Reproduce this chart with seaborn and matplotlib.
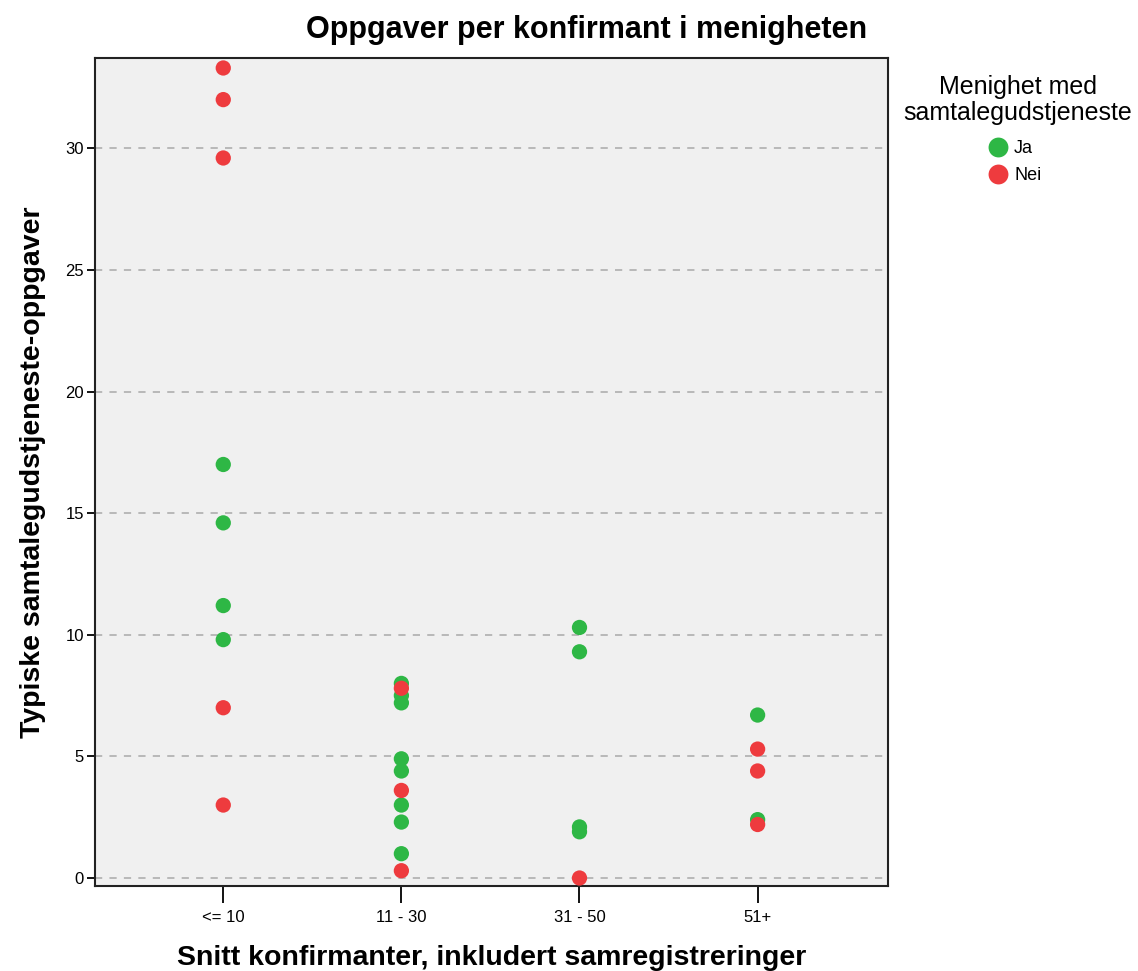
import pandas as pd
import matplotlib
matplotlib.use("Agg")
import matplotlib.pyplot as plt
import seaborn as sns

# ---- data ----
categories = ["<= 10", "11 - 30", "31 - 50", "51+"]

ja_groups = ["<= 10"] * 4 + ["11 - 30"] * 8 + ["31 - 50"] * 4 + ["51+"] * 2
ja_values = [17.0, 14.6, 11.2, 9.8,
             8.0, 7.5, 7.2, 4.9, 4.4, 3.0, 2.3, 1.0,
             10.3, 9.3, 2.1, 1.9,
             6.7, 2.4]

nei_groups = ["<= 10"] * 5 + ["11 - 30"] * 3 + ["31 - 50"] * 1 + ["51+"] * 3
nei_values = [33.3, 32.0, 29.6, 7.0, 3.0,
              7.8, 3.6, 0.3,
              0.0,
              5.3, 4.4, 2.2]

hue_labels = ["Ja", "Nei"]
yticks = [0, 5, 10, 15, 20, 25, 30]

df = pd.DataFrame({
    "gruppe": ja_groups + nei_groups,
    "verdi": ja_values + nei_values,
    "svar": ["Ja"] * len(ja_values) + ["Nei"] * len(nei_values),
})

# ---- styling ----
sns.set_style("white")
plt.rcParams["font.family"] = ["Liberation Sans", "DejaVu Sans"]
plt.rcParams["text.color"] = "black"
plt.rcParams["axes.labelcolor"] = "black"

fig = plt.figure(figsize=(11.38, 9.71), dpi=100)
ax = fig.add_axes([0.0835, 0.0875, 0.6965, 0.8525])
ax.set_facecolor("#F0F0F0")

# grid first so the points sit on top
for y in yticks:
    ax.axhline(y, color="#B4B4B4", linestyle=(0, (4, 4)), linewidth=1.3, zorder=0)

sns.stripplot(
    data=df, x="gruppe", y="verdi", hue="svar",
    order=categories, hue_order=hue_labels,
    palette={"Ja": "#2EB745", "Nei": "#EE3B3E"},
    jitter=False, dodge=False, size=11, linewidth=0, ax=ax, zorder=3,
)

ax.set_xlim(-0.72, 3.73)
ax.set_ylim(-0.33, 33.7)
ax.set_yticks(yticks)
ax.tick_params(axis="both", direction="out", length=6, width=1.3,
               colors="black", labelsize=12, bottom=True, left=True)
ax.tick_params(axis="x", length=12, pad=5)
ax.tick_params(axis="y", pad=2)

for s in ax.spines.values():
    s.set_color("#222222")
    s.set_linewidth(1.5)

fig.text(0.515, 0.969, "Oppgaver per konfirmant i menigheten",
         fontsize=22, fontweight="bold", ha="center", va="center")
ax.set_xlabel("Snitt konfirmanter, inkludert samregistreringer",
              fontsize=20.5, fontweight="bold", labelpad=15)
ax.set_ylabel("Typiske samtalegudstjeneste-oppgaver",
              fontsize=20.5, fontweight="bold", labelpad=14)

# legend outside on the right, title drawn separately
fig.text(1018 / 1138, 1 - 100 / 971, "Menighet med\nsamtalegudstjeneste",
         fontsize=18, ha="center", va="center", linespacing=1.1)
handles, labels = ax.get_legend_handles_labels()
ax.legend(handles, labels, loc="upper left",
          bbox_to_anchor=(987 / 1138, 1 - 140 / 971),
          bbox_transform=fig.transFigure,
          frameon=False, fontsize=13, borderpad=0, borderaxespad=0,
          handlelength=1.2, handletextpad=0.3, labelspacing=0.55,
          markerscale=1.3)

plt.savefig("out.png", dpi=100)
